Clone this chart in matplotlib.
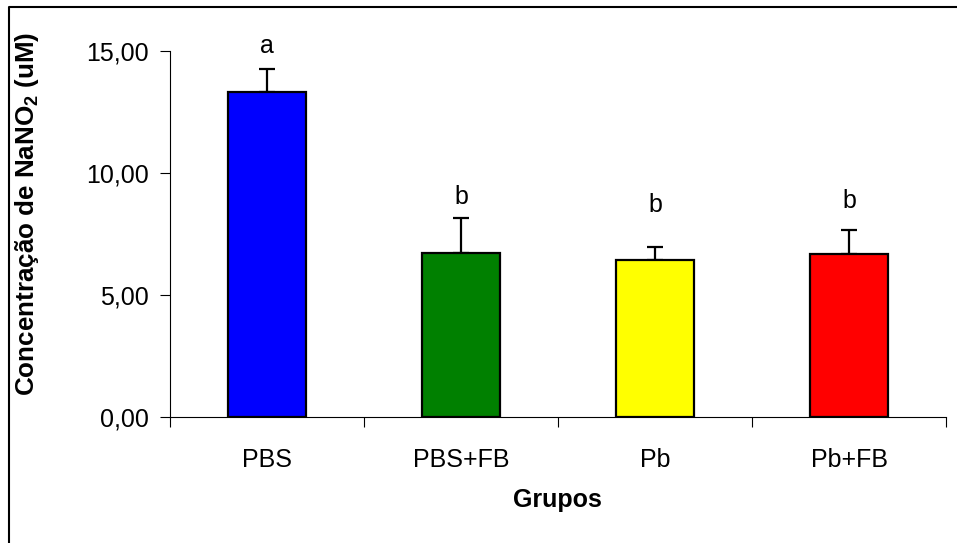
import matplotlib
matplotlib.use("Agg")
import matplotlib.pyplot as plt
from matplotlib.lines import Line2D
import numpy as np

plt.rcParams["font.family"] = ["Liberation Sans", "DejaVu Sans"]
plt.rcParams["mathtext.fontset"] = "custom"
plt.rcParams["mathtext.rm"] = "Liberation Sans"
plt.rcParams["mathtext.bf"] = "Liberation Sans:bold"

grupos = ["PBS", "PBS+FB", "Pb", "Pb+FB"]
media = [13.32, 6.71, 6.43, 6.69]
erro = [0.93, 1.46, 0.54, 0.97]
letras = ["a", "b", "b", "b"]
letra_y = [15.2, 9.0, 8.69, 8.85]
cores = ["#0000FF", "#008000", "#FFFF00", "#FF0000"]

fig = plt.figure(figsize=(9.57, 5.43), dpi=100)
ax = fig.add_axes([0.1776, 0.232, 0.811, 0.674])

x = np.arange(len(grupos))
ax.bar(x, media, width=0.40, color=cores, edgecolor="black", linewidth=1.6, zorder=2)
ax.errorbar(x, media, yerr=[np.zeros(len(erro)), erro], fmt="none", ecolor="black",
            elinewidth=1.6, capsize=5.5, capthick=1.6, zorder=1)

for xi, letra, yl in zip(x, letras, letra_y):
    ax.text(xi, yl, letra, ha="center", va="center", fontsize=18)

ax.set_xlim(-0.5, 3.5)
ax.set_ylim(0, 15)
ax.set_yticks([0, 5, 10, 15])
ax.set_yticklabels(["0,00", "5,00", "10,00", "15,00"])
ax.set_xticks(x)
ax.set_xticklabels(grupos)
ax.set_xticks(np.arange(-0.5, 4, 1), minor=True)
ax.tick_params(axis="x", which="major", length=0, pad=22, labelsize=18)
ax.tick_params(axis="x", which="minor", length=7, width=0.8, direction="out")
ax.tick_params(axis="y", length=7, width=0.8, direction="out", pad=8, labelsize=18)

for lado in ["top", "right"]:
    ax.spines[lado].set_visible(False)
for lado in ["left", "bottom"]:
    ax.spines[lado].set_linewidth(0.8)

fig.text(27 / 957, 0.606, r"Concentração de NaNO$_{\mathbf{2}}$ (uM)", rotation=90,
         ha="center", va="center", fontsize=18.7, fontweight="bold")
fig.text(0.583, 0.079, "Grupos", ha="center", va="center", fontsize=18, fontweight="bold")

# moldura externa (apenas topo e esquerda)
xb = 9 / 957
yb = 1 - 7 / 543
fig.add_artist(Line2D([xb, xb, 1], [0, yb, yb], transform=fig.transFigure,
                      color="black", linewidth=1.5))

fig.savefig("out.png", dpi=100)
